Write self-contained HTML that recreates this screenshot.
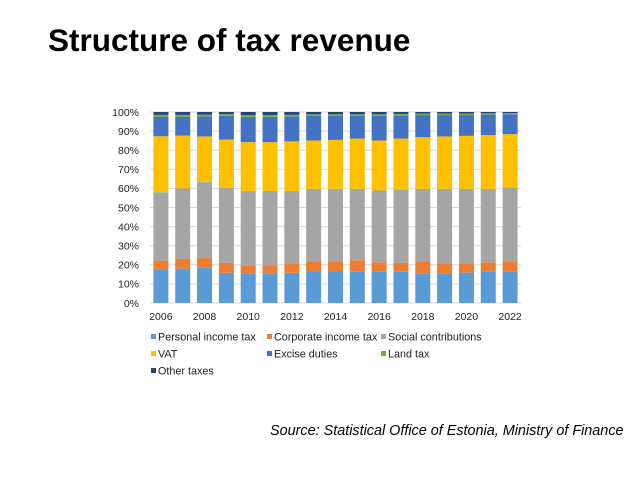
<!DOCTYPE html>
<html><head><meta charset="utf-8"><style>
body{margin:0;background:#fff;font-family:"Liberation Sans",sans-serif;}
#wrap{position:relative;width:638px;height:486px;overflow:hidden;}
#title{position:absolute;left:48px;top:22px;font-size:31.5px;font-weight:bold;color:#000;white-space:nowrap;}
#source{position:absolute;left:270px;top:423px;font-size:14.4px;font-style:italic;color:#000;white-space:nowrap;}
svg text{font-family:"Liberation Sans",sans-serif;}
</style></head><body>
<div id="wrap">
<div id="title">Structure of tax revenue</div>
<svg id="chart" width="638" height="486" style="position:absolute;left:0;top:0"></svg>
<div id="source">Source: Statistical Office of Estonia, Ministry of Finance</div>
</div>
<script>
const years=["2006","2007","2008","2009","2010","2011","2012","2013","2014","2015","2016","2017","2018","2019","2020","2021","2022"];
const personal=[17.5,18,18.5,15.8,15.6,15.6,15.8,16.5,16.5,16.3,16.3,16.3,15.6,15.6,15.9,16.3,16.6];
const corporate=[4.7,5.2,5,5.3,4,4,4.6,5.3,5.3,6.1,5,4.7,6.2,5.2,4.9,5,5.2];
const social=[35.8,36.8,39.8,39.2,39,39,38.2,38,38,37.4,37.6,38.4,38,39,39,38.5,38.7];
const vat=[29.3,27.7,23.9,25.3,25.6,25.6,26,25.3,25.6,26.3,26.2,26.7,27,27.4,27.7,28.1,27.9];
const excise=[10.1,9.7,10.4,12.4,13.2,13.2,13,12.8,12.5,11.8,12.8,12,11.6,11.2,10.9,10.7,10.4];
const land=[1.1,1.1,1,0.9,1,1,0.9,0.9,0.9,0.9,0.9,0.9,0.8,0.8,0.8,0.7,0.6];
const other=[1.5,1.5,1.4,1.1,1.6,1.6,1.5,1.2,1.2,1.2,1.2,1,0.8,0.8,0.8,0.7,0.6];
const seriesNames=["Personal income tax","Corporate income tax","Social contributions","VAT","Excise duties","Land tax","Other taxes"];
const yTicks=["0%","10%","20%","30%","40%","50%","60%","70%","80%","90%","100%"];
const series=[personal,corporate,social,vat,excise,land,other];
const colors=["#5b9bd5","#ed7d31","#a5a5a5","#ffc000","#4472c4","#70ad47","#264478"];
const NS="http://www.w3.org/2000/svg";
const svg=document.getElementById('chart');
const x0=150,x1=521,yTop=112,yBot=303;
const step=(x1-x0)/years.length, bw=15;
const yS=v=>yBot-(v/100)*(yBot-yTop);
const xS=i=>x0+step*(i+0.5);
function mk(t,a){const e=document.createElementNS(NS,t);for(const k in a)e.setAttribute(k,a[k]);svg.appendChild(e);return e;}
yTicks.forEach((t,i)=>{
  const v=i*10;
  const g=mk('line',{x1:x0,x2:x1,y1:yS(v),y2:yS(v),stroke:'#d9d9d9','stroke-width':1});
  
  
  const tx=mk('text',{x:139,y:yS(v)+3.8,'font-size':10.5,'text-anchor':'end',fill:'#222'});
  tx.textContent=t;
  
  
});
years.forEach((yr,i)=>{
  let cum=0;
  series.forEach((s,k)=>{
    const v=s[i];
    const r=mk('rect',{x:xS(i)-bw/2,y:yS(cum+v),width:bw,height:yS(cum)-yS(cum+v),fill:colors[k]});
    
    
    cum+=v;
  });
  if(i%2===0){
    const tx=mk('text',{x:xS(i),y:320,'font-size':10.5,'text-anchor':'middle',fill:'#222'});
    tx.textContent=yr;
    
    
  }
});
const legX=[151,267,381],legY=[337,354,371];
seriesNames.forEach((n,k)=>{
  const lx=legX[k%3],ly=legY[Math.floor(k/3)];
  const r=mk('rect',{x:lx,y:ly-3,width:5,height:5,fill:colors[k]});
  
  
  const t=mk('text',{x:lx+7,y:ly+3.5,'font-size':10.8,fill:'#222'});
  t.textContent=n;
  
  
});
</script>
</body></html>
